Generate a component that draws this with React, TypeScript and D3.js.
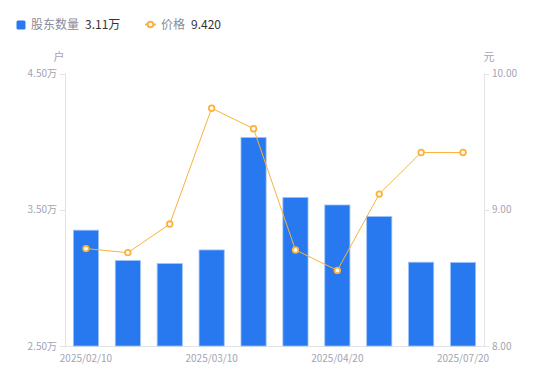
import React from "react";
import * as d3 from "d3";

const categories = [
  "2025/02/10", "2025/02/20", "2025/02/28", "2025/03/10", "2025/03/20",
  "2025/03/31", "2025/04/20", "2025/05/20", "2025/06/20", "2025/07/20",
];
const holders = [3.35, 3.127, 3.105, 3.205, 4.03, 3.59, 3.535, 3.45, 3.115, 3.113];
const prices = [8.715, 8.685, 8.895, 9.745, 9.595, 8.705, 8.555, 9.115, 9.42, 9.42];
const xTickLabels = ["2025/02/10", "2025/03/10", "2025/04/20", "2025/07/20"];
const leftTicks = [2.5, 3.5, 4.5];
const rightTicks = [8, 9, 10];

const W = 550, H = 381;
const M = { left: 65, right: 66, top: 73.5, bottom: 35 };
const FONT = "'Noto Sans CJK SC', 'Noto Sans', sans-serif";
const BAR = "#2878F0";
const LINE = "#FAB23C";
const AXIS = "#E2E3E8";
const LABEL = "#A3A4B2";

export default function App() {
  const x0 = M.left, x1 = W - M.right;
  const y0 = H - M.bottom, y1 = M.top;
  const x = d3.scaleBand<string>().domain(categories).range([x0, x1]).paddingInner(0).paddingOuter(0);
  const yL = d3.scaleLinear().domain([2.5, 4.5]).range([y0, y1]);
  const yR = d3.scaleLinear().domain([8, 10]).range([y0, y1]);
  const bw = x.bandwidth() * 0.6;
  const cx = (c: string) => (x(c) as number) + x.bandwidth() / 2;
  const line = d3.line<number>().x((_, i) => cx(categories[i])).y((d) => yR(d));

  return (
    <svg width={W} height={H} style={{ position: "absolute", left: 0, top: 0, fontFamily: FONT }}>
      <rect width={W} height={H} fill="#fff" />
      {/* legend */}
      <rect x={16.5} y={20.5} width={9} height={9} rx={1.5} fill={BAR} />
      <text x={31} y={29} fontSize={12} fill="#8A8B99">股东数量</text>
      <text x={85} y={29} fontSize={12} fill="#333">3.11万</text>
      <line x1={145} x2={156} y1={24.5} y2={24.5} stroke={LINE} strokeWidth={2} />
      <circle cx={150.5} cy={24.5} r={2.8} fill="#fff" stroke={LINE} strokeWidth={2} />
      <text x={161} y={29} fontSize={12} fill="#8A8B99">价格</text>
      <text x={191} y={29} fontSize={12} fill="#333">9.420</text>

      {/* unit labels */}
      <text x={59} y={61} fontSize={11} fill={LABEL} textAnchor="middle">户</text>
      <text x={489} y={61} fontSize={11} fill={LABEL} textAnchor="middle">元</text>

      {/* axes */}
      <line x1={x0 + 0.5} x2={x0 + 0.5} y1={y1} y2={y0} stroke={AXIS} />
      <line x1={x1 + 0.5} x2={x1 + 0.5} y1={y1} y2={y0} stroke={AXIS} />
      <line x1={x0} x2={x1} y1={y0 + 0.5} y2={y0 + 0.5} stroke={AXIS} />
      {leftTicks.map((t) => (
        <g key={"l" + t}>
          <line x1={x0 - 5} x2={x0} y1={Math.round(yL(t)) + 0.5} y2={Math.round(yL(t)) + 0.5} stroke={AXIS} />
          <text x={x0 - 8} y={yL(t)} dy="0.35em" fontSize={10} fill={LABEL} textAnchor="end">
            {t.toFixed(2)}万
          </text>
        </g>
      ))}
      {rightTicks.map((t) => (
        <g key={"r" + t}>
          <line x1={x1} x2={x1 + 5} y1={Math.round(yR(t)) + 0.5} y2={Math.round(yR(t)) + 0.5} stroke={AXIS} />
          <text x={x1 + 8} y={yR(t)} dy="0.35em" fontSize={10} fill={LABEL} textAnchor="start">
            {t.toFixed(2)}
          </text>
        </g>
      ))}
      {xTickLabels.map((c) => (
        <text key={c} x={cx(c)} y={y0 + 16} fontSize={10} fill={LABEL} textAnchor="middle">
          {c}
        </text>
      ))}

      {/* bars */}
      {categories.map((c, i) => (
        <rect
          key={c}
          x={cx(c) - bw / 2}
          y={yL(holders[i])}
          width={bw}
          height={y0 - yL(holders[i])}
          fill={BAR}
          stroke="#9CC2F8"
          strokeWidth={0.8}
        />
      ))}

      {/* line */}
      <path d={line(prices) || ""} fill="none" stroke={LINE} strokeWidth={1} />
      {prices.map((p, i) => (
        <circle key={i} cx={cx(categories[i])} cy={yR(p)} r={2.8} fill="#fff" stroke={LINE} strokeWidth={1.8} />
      ))}
    </svg>
  );
}
